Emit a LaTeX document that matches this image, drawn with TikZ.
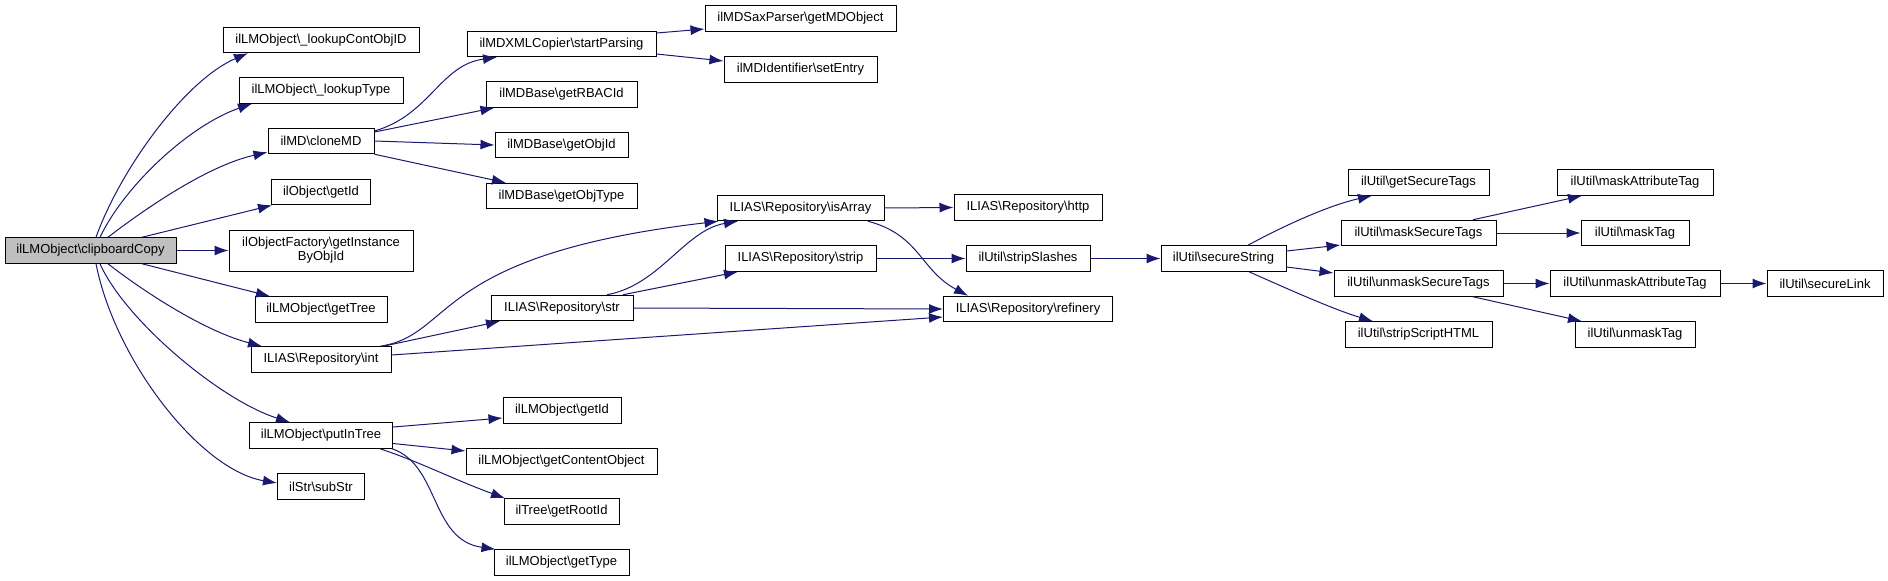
\documentclass[tikz,border=0pt]{standalone}
\usepackage{fontspec}
\setmainfont{Liberation Sans}
\usepackage{tikz}
\usetikzlibrary{arrows.meta}
\newcommand{\bsl}{\textbackslash}
\definecolor{callblue}{HTML}{191970}
\tikzset{my box/.style={
  draw=black,
  fill=white,
  line width=1pt,
  minimum height=25.5pt,
  inner sep=1pt,
  font=\fontsize{13pt}{14pt}\selectfont
  }
}
\tikzset{my arrow/.style={
  callblue,
  line width=1pt,
  -{Latex[length=14pt,width=10pt]}
  }
}

\begin{document}
\begin{tikzpicture}[x=1pt,y=-1pt]
    \useasboundingbox (0,0) rectangle (1888,581);

    \node[my box,fill=black!25,minimum width=171pt] (cc) at (90.5,250.5) {ilLMObject\bsl{}clipboardCopy};
    \node[my box,minimum width=184pt,minimum height=41pt,align=center] (of) at (321,250.5) {ilObjectFactory\bsl{}getInstance\\ByObjId};

    \foreach \n/\x/\y/\w/\t in {lc/321/40/196/{ilLMObject\bsl\_lookupContObjID},
        lt/321/90.5/164/{ilLMObject\bsl\_lookupType}, cl/321/141/106/{ilMD\bsl{}cloneMD},
        oid/321/192/99/{ilObject\bsl{}getId}, gt/321/309.5/132/{ilLMObject\bsl{}getTree},
        int/321/359.5/140/{ILIAS\bsl{}Repository\bsl{}int}, pit/321/435.5/143/{ilLMObject\bsl{}putInTree},
        sub/321/486.5/87/{ilStr\bsl{}subStr}}
        \node[my box,minimum width=\w pt] (\n) at (\x,\y) {\t};

    \foreach \n/\x/\y/\w/\t in {sp/561.5/44/189/{ilMDXMLCopier\bsl{}startParsing},
        rb/561.5/94.5/151/{ilMDBase\bsl{}getRBACId}, oi/561.5/145/133/{ilMDBase\bsl{}getObjId},
        ot/561.5/196/151/{ilMDBase\bsl{}getObjType}, str/562/308/142/{ILIAS\bsl{}Repository\bsl{}str},
        lgid/562/410.5/118/{ilLMObject\bsl{}getId}, gco/561.5/461.5/191/{ilLMObject\bsl{}getContentObject},
        gri/561.5/511.5/115/{ilTree\bsl{}getRootId}, gty/561.5/562.5/135/{ilLMObject\bsl{}getType}}
        \node[my box,minimum width=\w pt] (\n) at (\x,\y) {\t};

    \foreach \n/\x/\y/\w/\t in {mdo/800.5/18.5/191/{ilMDSaxParser\bsl{}getMDObject},
        se/800.5/69.5/153/{ilMDIdentifier\bsl{}setEntry}, isa/800.5/208/167/{ILIAS\bsl{}Repository\bsl{}isArray},
        strip/800.5/258.5/151/{ILIAS\bsl{}Repository\bsl{}strip}, http/1028/207.5/148/{ILIAS\bsl{}Repository\bsl{}http},
        ss/1028/258.5/124/{ilUtil\bsl{}stripSlashes}, ref/1028/309/169/{ILIAS\bsl{}Repository\bsl{}refinery},
        sec/1223.5/258.5/125/{ilUtil\bsl{}secureString}}
        \node[my box,minimum width=\w pt] (\n) at (\x,\y) {\t};

    \foreach \n/\x/\y/\w/\t in {gst/1418.5/182.5/141/{ilUtil\bsl{}getSecureTags},
        mst/1418.5/233/155/{ilUtil\bsl{}maskSecureTags}, ust/1418.5/283.5/169/{ilUtil\bsl{}unmaskSecureTags},
        ssh/1418.5/334.5/147/{ilUtil\bsl{}stripScriptHTML}, mat/1635/182.5/156/{ilUtil\bsl{}maskAttributeTag},
        mt/1635/233/108/{ilUtil\bsl{}maskTag}, uat/1635/283.5/170/{ilUtil\bsl{}unmaskAttributeTag},
        ut/1635/334.5/120/{ilUtil\bsl{}unmaskTag}, sl/1825/283.5/116/{ilUtil\bsl{}secureLink}}
        \node[my box,minimum width=\w pt] (\n) at (\x,\y) {\t};

    % clipboardCopy
    \draw[my arrow] ([xshift=5.5pt]cc.north) .. controls (120,170) and (185,80) .. ([xshift=-73pt]lc.south);
    \draw[my arrow] ([xshift=9.5pt]cc.north) .. controls (125,185) and (190,125) .. ([xshift=-69pt]lt.south);
    \draw[my arrow] ([xshift=17.5pt]cc.north) .. controls (150,205) and (210,165) .. ([yshift=2pt]cl.south west);
    \draw[my arrow] ([xshift=51.5pt]cc.north) -- ([xshift=-49pt]oid.south);
    \draw[my arrow] (cc.east) -- (of.west);
    \draw[my arrow] ([xshift=51.5pt]cc.south) -- ([xshift=-51pt]gt.north);
    \draw[my arrow] ([xshift=17.5pt]cc.south) .. controls (135,285) and (200,330) .. ([xshift=-59pt]int.north);
    \draw[my arrow] ([xshift=9.5pt]cc.south) .. controls (125,320) and (220,400) .. ([xshift=-31pt]pit.north);
    \draw[my arrow] ([xshift=5.5pt]cc.south) .. controls (115,360) and (200,470) .. ([yshift=3.5pt]sub.west);

    % cloneMD
    \draw[my arrow] ([yshift=10pt]cl.east) .. controls (430,115) and (440,65) .. ([xshift=-64.5pt]sp.south);
    \draw[my arrow] ([yshift=9pt]cl.east) -- ([xshift=-67pt]rb.south);
    \draw[my arrow] (cl.east) -- (oi.west);
    \draw[my arrow] (cl.south east) -- ([xshift=-55.5pt]ot.north);
    \draw[my arrow] ([yshift=11pt]sp.east) -- ([yshift=-10.5pt]mdo.west);
    \draw[my arrow] ([yshift=-10pt]sp.east) -- ([yshift=8.5pt]se.west);

    % Repository
    \draw[my arrow] ([xshift=59pt]int.north) .. controls (455,335) and (430,255) .. ([xshift=2pt]isa.south west);
    \draw[my arrow] ([xshift=62pt]int.north) -- ([xshift=-62pt]str.south);
    \draw[my arrow] ([yshift=4.5pt]int.east) -- ([yshift=-8pt]ref.west);
    \draw[my arrow] ([xshift=45pt]str.north) .. controls (660,285) and (685,230) .. ([xshift=-62.5pt]isa.south);
    \draw[my arrow] ([xshift=61pt]str.north) -- ([xshift=-62.5pt]strip.south);
    \draw[my arrow] (str.east) -- (ref.west);
    \draw[my arrow] (isa.east) -- (http.west);
    \draw[my arrow] ([xshift=67.5pt]isa.south) .. controls (920,235) and (920,270) .. ([xshift=-60pt]ref.north);
    \draw[my arrow] (strip.east) -- (ss.west);
    \draw[my arrow] (ss.east) -- (sec.west);

    % secureString
    \draw[my arrow] ([xshift=24.5pt]sec.north) .. controls (1285,225) and (1330,205) .. ([xshift=-46.5pt]gst.south);
    \draw[my arrow] ([yshift=7.5pt]sec.east) -- ([yshift=-12pt]mst.west);
    \draw[my arrow] ([yshift=-8.5pt]sec.east) -- ([yshift=10.5pt]ust.west);
    \draw[my arrow] ([xshift=25.5pt]sec.south) .. controls (1290,290) and (1335,310) .. ([xshift=-45.5pt]ssh.north);
    \draw[my arrow] ([xshift=54.5pt]mst.north) -- ([xshift=-53pt]mat.south);
    \draw[my arrow] (mst.east) -- (mt.west);
    \draw[my arrow] (ust.east) -- (uat.west);
    \draw[my arrow] ([xshift=54.5pt]ust.south) -- ([xshift=-53pt]ut.north);
    \draw[my arrow] (uat.east) -- (sl.west);

    % putInTree
    \draw[my arrow] ([yshift=8.5pt]pit.east) -- ([yshift=-7.5pt]lgid.west);
    \draw[my arrow] ([yshift=-8pt]pit.east) -- ([yshift=10.5pt]gco.west);
    \draw[my arrow] ([xshift=59pt]pit.south) .. controls (420,462) and (455,480) .. ([xshift=-56.5pt]gri.north);
    \draw[my arrow] ([xshift=71pt]pit.south) .. controls (440,465) and (430,540) .. ([xshift=-66pt]gty.north);
\end{tikzpicture}
\end{document}
